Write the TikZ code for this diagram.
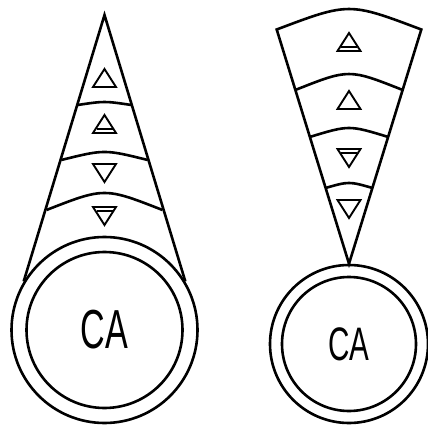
\documentclass[tikz,border=0pt]{standalone}
\usepackage{fontspec}
\newfontfamily\cafont{Liberation Sans}
\usetikzlibrary{calc}

\tikzset{
  outline/.style={line width=2.6pt, line join=miter},
  ring/.style={circle, draw, line width=2.6pt, inner sep=0pt},
  marker/.style={line width=1.9pt, line join=miter},
  uptri/.pic={\draw[marker] (0,-9) -- (11.5,9) -- (-11.5,9) -- cycle;},
  uptribar/.pic={\draw[marker] (0,-9) -- (11.5,9) -- (-11.5,9) -- cycle;
                 \draw[marker] (-8,5.4) -- (8,5.4);},
  downtri/.pic={\draw[marker] (0,9) -- (11.5,-9) -- (-11.5,-9) -- cycle;},
  downtribar/.pic={\draw[marker] (0,9) -- (11.5,-9) -- (-11.5,-9) -- cycle;
                   \draw[marker] (-8,-5.4) -- (8,-5.4);}
}

\begin{document}
\begin{tikzpicture}[x=1pt, y=-1pt]
    \useasboundingbox (0,0) rectangle (428,425);

    % left: cone on top of the ring
    \node[ring, minimum size=186pt] (outerL) at (104.5,330) {};
    \node[ring, minimum size=156pt] (innerL) at (104.5,330)
        {\scalebox{0.62}[1]{\fontsize{55}{55}\cafont CA}};
    \coordinate (tipL) at (104.5,15);
    \draw[outline] (outerL.149) -- (tipL) -- (outerL.31);
    \draw[outline] (77.6,105) .. controls (104.5,101) and (104.5,101) .. (131.4,105);
    \draw[outline] (61.3,160) .. controls (104.5,149.3) and (104.5,149.3) .. (147.7,160);
    \draw[outline] (46.5,210) .. controls (104.5,187.3) and (104.5,187.3) .. (162.5,210);

    \pic at (104.5,78) {uptri};
    \pic at (104.5,124) {uptribar};
    \pic at (104.5,173) {downtri};
    \pic at (104.5,216) {downtribar};

    % right: wedge standing on the ring
    \node[ring, minimum size=158pt] (outerR) at (349,344) {};
    \node[ring, minimum size=134pt] (innerR) at (349,344)
        {\scalebox{0.63}[1]{\fontsize{47}{47}\cafont CA}};
    \coordinate (tipR) at (outerR.north);
    \draw[outline] (tipR) -- (276.7,29.5)
        .. controls (349,2.2) and (349,2.2) .. (421.3,29.5) -- cycle;
    \draw[outline] (295.3,90) .. controls (349,68.7) and (349,68.7) .. (402.7,90);
    \draw[outline] (309.7,137) .. controls (349,125) and (349,125) .. (388.3,137);
    \draw[outline] (325.4,188) .. controls (349,181.3) and (349,181.3) .. (372.6,188);

    \pic at (349,42) {uptribar};
    \pic at (349,100) {uptri};
    \pic at (349,158) {downtribar};
    \pic at (349,209) {downtri};
\end{tikzpicture}
\end{document}
